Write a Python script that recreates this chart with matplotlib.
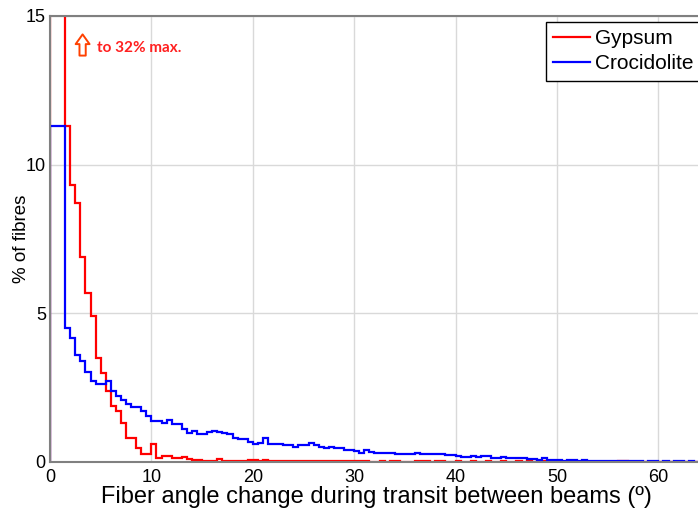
import numpy as np
import matplotlib
matplotlib.use("Agg")
import matplotlib.pyplot as plt

plt.rcParams["font.family"] = ["Liberation Sans", "DejaVu Sans"]

# % of fibres per angle bin; first bin is 0-1.5 deg, then 0.5 deg bins up to 64.5
gypsum_pct = [
    32.0,
    11.3, 9.3, 8.7, 6.9, 5.7, 4.9, 3.5, 3.0, 2.4, 1.9,
    1.7, 1.3, 0.82, 0.82, 0.48, 0.27, 0.27, 0.6, 0.13, 0.2,
    0.2, 0.13, 0.13, 0.17, 0.1, 0.07, 0.07, 0.05, 0.03, 0.03,
    0.1, 0.05, 0.03, 0.03, 0.03, 0.03, 0.07, 0.07, 0.03, 0.07,
    0.02, 0.02, 0.02, 0.02, 0.02, 0.02, 0.02, 0.02, 0.02, 0.02,
    0.02, 0.02, 0.02, 0.02, 0.02, 0.02, 0.02, 0.02, 0.02, 0.02,
    0.0, 0.0, 0.02, 0.0, 0.02, 0.02, 0.0, 0.0, 0.0, 0.02,
    0.02, 0.02, 0.0, 0.02, 0.02, 0.0, 0.0, 0.02, 0.0, 0.0,
    0.02, 0.0, 0.0, 0.02, 0.0, 0.0, 0.02, 0.0, 0.0, 0.02,
    0.0, 0.02, 0.0, 0.05, 0.02, 0.0, 0.0, 0.0, 0.0, 0.0,
    0.0, 0.0, 0.0, 0.0, 0.0, 0.0, 0.0, 0.0, 0.0, 0.02,
    0.02, 0.0, 0.0, 0.0, 0.0, 0.0, 0.0, 0.0, 0.0, 0.0,
    0.0, 0.0, 0.0, 0.0, 0.0, 0.0,
]

crocidolite_pct = [
    11.3,
    4.52, 4.16, 3.6, 3.4, 3.04, 2.73, 2.62, 2.62, 2.73, 2.39,
    2.22, 2.1, 1.94, 1.85, 1.85, 1.71, 1.55, 1.38, 1.38, 1.32,
    1.41, 1.27, 1.27, 1.1, 0.99, 1.04, 0.94, 0.94, 1.01, 1.04,
    1.01, 0.99, 0.94, 0.82, 0.77, 0.77, 0.68, 0.6, 0.65, 0.8,
    0.6, 0.6, 0.6, 0.58, 0.56, 0.5, 0.56, 0.56, 0.64, 0.56,
    0.5, 0.46, 0.5, 0.48, 0.46, 0.42, 0.4, 0.37, 0.31, 0.39,
    0.33, 0.31, 0.31, 0.3, 0.3, 0.28, 0.28, 0.27, 0.27, 0.31,
    0.28, 0.28, 0.28, 0.27, 0.27, 0.24, 0.24, 0.19, 0.17, 0.17,
    0.21, 0.17, 0.2, 0.2, 0.15, 0.14, 0.17, 0.14, 0.14, 0.12,
    0.12, 0.1, 0.1, 0.08, 0.12, 0.07, 0.07, 0.06, 0.05, 0.07,
    0.07, 0.05, 0.06, 0.03, 0.03, 0.03, 0.03, 0.03, 0.02, 0.02,
    0.02, 0.02, 0.04, 0.02, 0.0, 0.02, 0.02, 0.0, 0.02, 0.0,
    0.02, 0.02, 0.0, 0.02, 0.0, 0.02,
]

edges = np.concatenate([[0.0], 1.5 + 0.5 * np.arange(len(gypsum_pct))])

fig = plt.figure(figsize=(6.98, 5.15), dpi=100)
# axes run a little past the right edge, as in the original (no right frame)
ax = fig.add_axes([50 / 698, 53 / 515, 652 / 698, 446 / 515])

ax.stairs(gypsum_pct, edges, color="#ff0000", linewidth=1.6, label="Gypsum", zorder=2)
ax.stairs(crocidolite_pct, edges, color="#0000ff", linewidth=1.6, label="Crocidolite", zorder=2)

ax.set_xlim(0, 64.3)
ax.set_ylim(0, 15)
ax.set_xticks([0, 10, 20, 30, 40, 50, 60])
ax.set_yticks([0, 5, 10, 15])
ax.grid(True, color="#d9d9d9", linewidth=1.0)
ax.set_axisbelow(True)
ax.tick_params(length=0, labelsize=13, colors="#000000")
ax.tick_params(axis="y", pad=3)
ax.tick_params(axis="x", pad=5)
for s in ax.spines.values():
    s.set_color("#808080")
    s.set_linewidth(1.5)
    s.set_zorder(3)

ax.set_xlabel("Fiber angle change during transit between beams (º)", fontsize=17, labelpad=0)
ax.set_ylabel("% of fibres", fontsize=13.5)
ax.yaxis.set_label_coords(-0.031, 0.5)

ax.annotate("", xy=(0.05, 0.965), xytext=(0.05, 0.905), xycoords="axes fraction",
            arrowprops=dict(arrowstyle="simple,head_width=1.0,head_length=0.7,tail_width=0.45",
                            fc="white", ec="#ff4000", lw=1.4))
ax.text(0.072, 0.929, "to 32% max.", transform=ax.transAxes, color="#ff2020",
        fontsize=11, fontweight="bold", family="Lato", va="center", ha="left")

leg = ax.legend(loc="upper left", bbox_to_anchor=(496 / 652, 0.987), fontsize=15,
                frameon=True, fancybox=False, edgecolor="#000000", framealpha=1,
                handlelength=1.75, handletextpad=0.25, borderpad=0.35, labelspacing=0.3,
                borderaxespad=0)
leg.get_frame().set_linewidth(1.0)

fig.savefig("out.png", dpi=100)
